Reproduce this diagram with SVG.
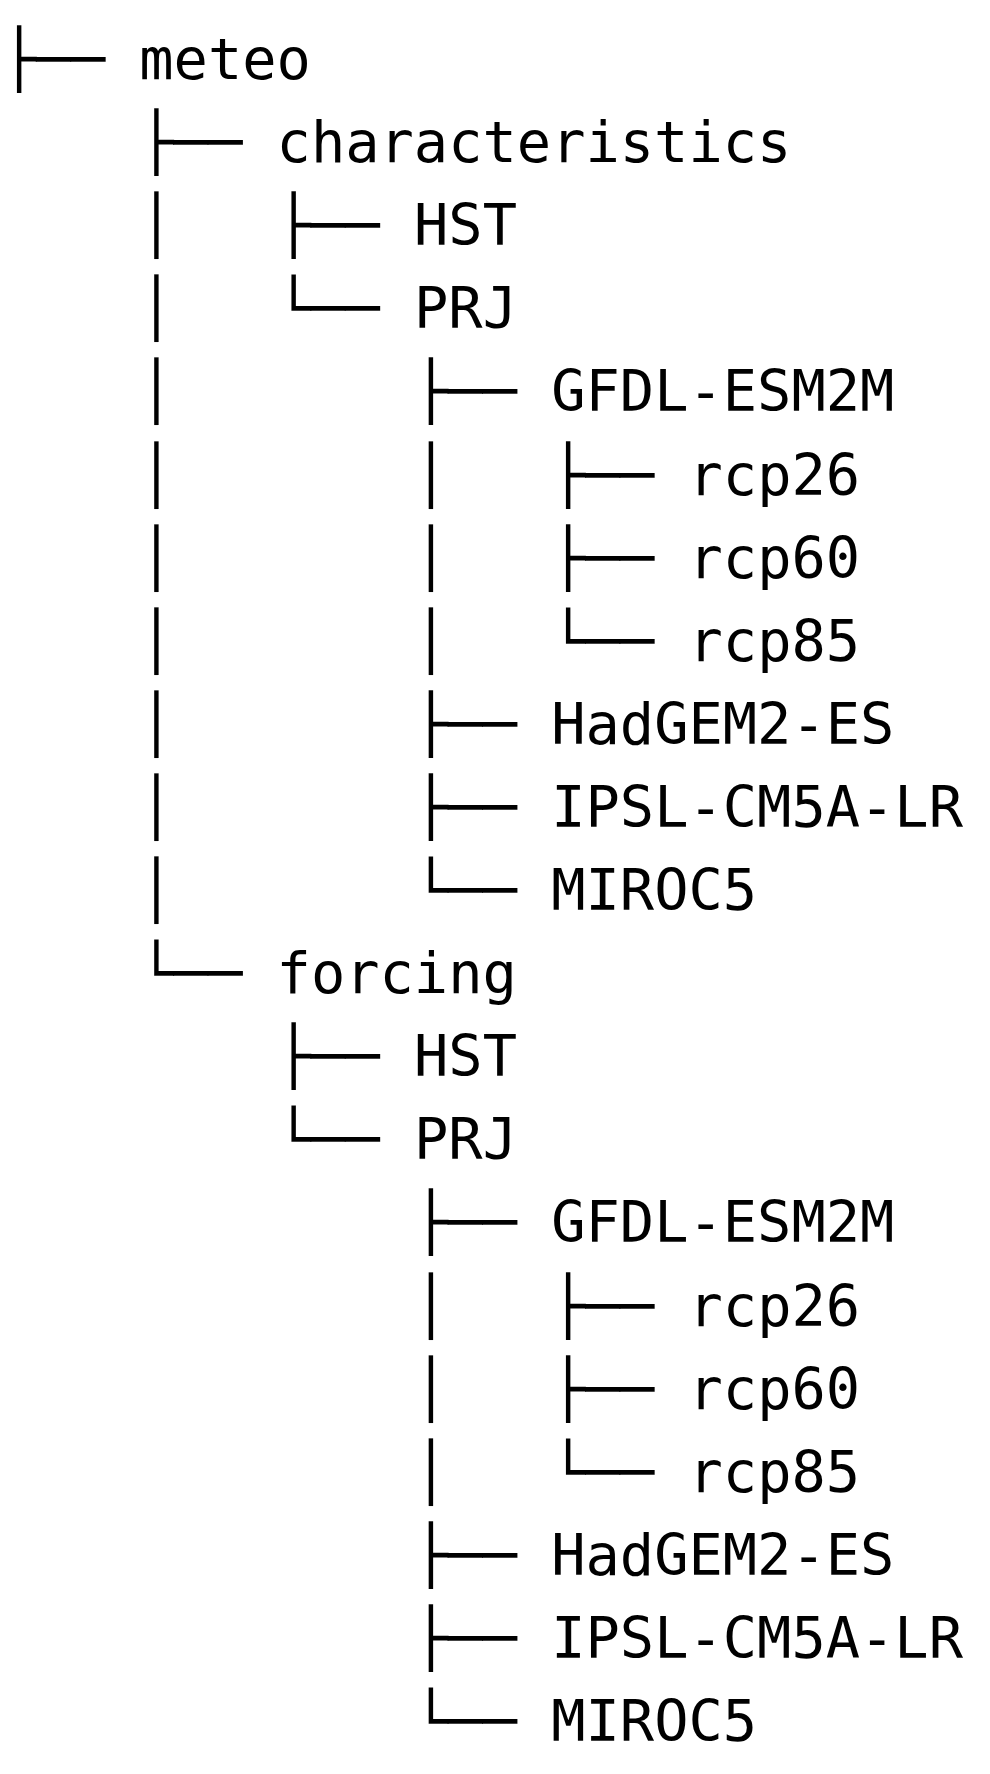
<svg xmlns="http://www.w3.org/2000/svg" width="990" height="1774" viewBox="0 0 990 1774">
<style>
text{font-family:"DejaVu Sans Mono","Liberation Mono",monospace;font-size:57px;fill:#000;white-space:pre}
</style>
<rect width="990" height="1774" fill="#fff"/>
<g id="connectors">
<text x="2" y="79" xml:space="preserve">├── </text>
<text x="2" y="162" xml:space="preserve">    ├── </text>
<text x="2" y="245" xml:space="preserve">    │   ├── </text>
<text x="2" y="328" xml:space="preserve">    │   └── </text>
<text x="2" y="411" xml:space="preserve">    │       ├── </text>
<text x="2" y="495" xml:space="preserve">    │       │   ├── </text>
<text x="2" y="578" xml:space="preserve">    │       │   ├── </text>
<text x="2" y="661" xml:space="preserve">    │       │   └── </text>
<text x="2" y="744" xml:space="preserve">    │       ├── </text>
<text x="2" y="827" xml:space="preserve">    │       ├── </text>
<text x="2" y="910" xml:space="preserve">    │       └── </text>
<text x="2" y="993" xml:space="preserve">    └── </text>
<text x="2" y="1076" xml:space="preserve">        ├── </text>
<text x="2" y="1159" xml:space="preserve">        └── </text>
<text x="2" y="1242" xml:space="preserve">            ├── </text>
<text x="2" y="1326" xml:space="preserve">            │   ├── </text>
<text x="2" y="1409" xml:space="preserve">            │   ├── </text>
<text x="2" y="1492" xml:space="preserve">            │   └── </text>
<text x="2" y="1575" xml:space="preserve">            ├── </text>
<text x="2" y="1658" xml:space="preserve">            ├── </text>
<text x="2" y="1741" xml:space="preserve">            └── </text>
</g>
<g id="meteo"><text x="139.3" y="79">meteo</text></g>
<g id="characteristics"><text x="276.6" y="162">characteristics</text></g>
<g id="char-HST"><text x="414" y="245">HST</text></g>
<g id="char-PRJ"><text x="414" y="328">PRJ</text></g>
<g id="char-GFDL"><text x="551.2" y="411">GFDL-ESM2M</text></g>
<g id="char-rcp26"><text x="688.5" y="495">rcp26</text></g>
<g id="char-rcp60"><text x="688.5" y="578">rcp60</text></g>
<g id="char-rcp85"><text x="688.5" y="661">rcp85</text></g>
<g id="char-HadGEM"><text x="551.2" y="744">HadGEM2-ES</text></g>
<g id="char-IPSL"><text x="551.2" y="827">IPSL-CM5A-LR</text></g>
<g id="char-MIROC"><text x="551.2" y="910">MIROC5</text></g>
<g id="forcing"><text x="276.6" y="993">forcing</text></g>
<g id="forc-HST"><text x="414" y="1076">HST</text></g>
<g id="forc-PRJ"><text x="414" y="1159">PRJ</text></g>
<g id="forc-GFDL"><text x="551.2" y="1242">GFDL-ESM2M</text></g>
<g id="forc-rcp26"><text x="688.5" y="1326">rcp26</text></g>
<g id="forc-rcp60"><text x="688.5" y="1409">rcp60</text></g>
<g id="forc-rcp85"><text x="688.5" y="1492">rcp85</text></g>
<g id="forc-HadGEM"><text x="551.2" y="1575">HadGEM2-ES</text></g>
<g id="forc-IPSL"><text x="551.2" y="1658">IPSL-CM5A-LR</text></g>
<g id="forc-MIROC"><text x="551.2" y="1741">MIROC5</text></g>
</svg>
